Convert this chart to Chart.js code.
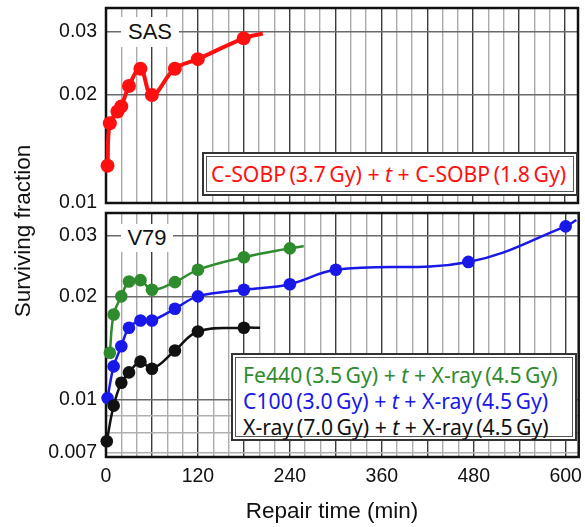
<!DOCTYPE html>
<html><head><meta charset="utf-8">
<script src="https://cdn.jsdelivr.net/npm/chart.js@4.4.0/dist/chart.umd.min.js"></script>
<style>
html,body{margin:0;padding:0;background:#fff;}
#wrap{position:relative;width:585px;height:527px;overflow:hidden;font-family:"Liberation Sans",Arial,sans-serif;color:#111;}
canvas{position:absolute;left:0;top:0;}
.tag{position:absolute;background:#fff;font-size:22px;text-align:center;white-space:nowrap;}
.leg{position:absolute;background:#fff;border:2px solid #333;padding:2px;box-sizing:border-box;}
.leg .in{border:1px solid #555;height:100%;box-sizing:border-box;font-family:"Noto Sans",sans-serif;font-size:21.2px;white-space:nowrap;}
.title{position:absolute;font-size:22.5px;white-space:nowrap;text-align:center;}
</style>
</head><body>
<div id="wrap">
<canvas id="bot" width="585" height="527"></canvas>
<canvas id="top" width="585" height="527"></canvas>
<div class="tag" style="left:121px;top:17px;width:58px;height:30px;line-height:30px;">SAS</div>
<div class="tag" style="left:121px;top:224px;width:52px;height:28px;line-height:28px;">V79</div>
<div class="leg" style="left:202px;top:152px;width:376px;height:44px;">
  <div class="in" style="color:#ff1010;line-height:34px;padding-left:4px;">C-SOBP&#8201;(3.7&#8201;Gy) + <i>t</i> + C-SOBP&#8201;(1.8&#8201;Gy)</div>
</div>
<div class="leg" style="left:231px;top:353px;width:346px;height:88px;">
  <div class="in" style="line-height:26px;padding-left:7px;padding-top:4px;">
    <div style="color:#2e8b2e">Fe440&#8201;(3.5&#8201;Gy) + <i>t</i> + X-ray&#8201;(4.5&#8201;Gy)</div>
    <div style="color:#1818e8">C100&#8201;(3.0&#8201;Gy) + <i>t</i> + X-ray&#8201;(4.5&#8201;Gy)</div>
    <div style="color:#111">X-ray&#8201;(7.0&#8201;Gy) + <i>t</i> + X-ray&#8201;(4.5&#8201;Gy)</div>
  </div>
</div>
<div class="title" style="left:-127px;top:218px;width:300px;transform:rotate(-90deg);">Surviving fraction</div>
<div class="title" style="left:182px;top:498px;width:300px;">Repair time (min)</div>
</div>
<script>
// ---- data (time in min, surviving fraction) ----
const sasTime = [2, 5, 15, 20, 30, 45, 60, 90, 120, 180, 205];
const sasSF   = [0.0127, 0.0167, 0.0180, 0.0186, 0.0212, 0.0237, 0.0200, 0.0237, 0.0252, 0.0288, 0.0297];

const fe440Time = [5, 10, 20, 30, 45, 60, 90, 120, 180, 240, 258];
const fe440SF   = [0.0137, 0.0177, 0.0200, 0.0221, 0.0223, 0.0209, 0.0220, 0.0239, 0.0260, 0.0276, 0.0280];

const c100Time = [2, 10, 20, 30, 45, 60, 90, 120, 180, 240, 300, 473, 600, 614];
const c100SF   = [0.0101, 0.0125, 0.0143, 0.0162, 0.0170, 0.0170, 0.0184, 0.0200, 0.0209, 0.0217, 0.0239, 0.0252, 0.0320, 0.0334];

const xrayTime = [1, 10, 20, 30, 45, 60, 90, 120, 180, 201];
const xraySF   = [0.00756, 0.0096, 0.0112, 0.0120, 0.0129, 0.0123, 0.0139, 0.0158, 0.0162, 0.0162];

const xTickLabels = ['0', '120', '240', '360', '480', '600'];
const topYTicks = [0.01, 0.02, 0.03];
const topYLabels = ['0.01', '0.02', '0.03'];
const botYTicks = [0.007, 0.008, 0.009, 0.01, 0.02, 0.03];
const botYLabels = ['0.007', '', '', '0.01', '0.02', '0.03'];

const X_MIN = 0, X_MAX = 617, X_STEP = 20;
const pts = (xs, ys) => xs.map((x, i) => ({x: x, y: ys[i]}));
const xGridValues = [];
for (let v = X_MIN; v <= 600; v += X_STEP) xGridValues.push(v);

const frame = {
  id: 'frame',
  beforeDatasetsDraw(chart) {
    const a = chart.chartArea, c = chart.ctx;
    c.save(); c.strokeStyle = '#111'; c.lineWidth = 2.5;
    c.strokeRect(a.left, a.top, a.right - a.left, a.bottom - a.top);
    c.restore();
  }
};

function ds(label, xs, ys, color, r, w) {
  return {
    label: label, data: pts(xs, ys), borderColor: color, backgroundColor: color,
    borderWidth: w, tension: 0.4, fill: false, clip: false,
    pointRadius: ctx => ctx.dataIndex === ctx.dataset.data.length - 1 ? 0 : r,
    pointBorderWidth: 0, pointHoverRadius: 0
  };
}

function xScale(showLabels, h) {
  return {
    type: 'linear', min: X_MIN, max: X_MAX,
    afterBuildTicks: s => { s.ticks = xGridValues.map(v => ({value: v})); },
    afterFit: s => { s.height = h; s.paddingLeft = 0; s.paddingRight = 0; },
    ticks: {
      display: showLabels, autoSkip: false, maxRotation: 0, padding: 8,
      font: {family: 'Liberation Sans', size: 19.5}, color: '#111',
      callback: v => xTickLabels.includes(String(v)) ? String(v) : ''
    },
    grid: {
      drawTicks: false, lineWidth: 1.4,
      color: ctx => (ctx.tick && ctx.tick.value % 60 === 0) ? '#3c3c3c' : '#ababab'
    },
    border: {display: false}
  };
}

function yScale(min, max, tickVals, tickLabels) {
  return {
    type: 'logarithmic', min: min, max: max,
    afterBuildTicks: s => { s.ticks = tickVals.map(v => ({value: v})); },
    afterFit: s => { s.width = 106; s.paddingTop = 0; s.paddingBottom = 0; },
    ticks: {
      autoSkip: false, padding: 9,
      font: {family: 'Liberation Sans', size: 19.5}, color: '#111',
      callback: (v, i) => tickLabels[i]
    },
    grid: {
      drawTicks: false, lineWidth: 1.4,
      color: ctx => (ctx.tick && ctx.tick.value >= 0.0099) ? '#6a6a6a' : '#b0b0b0'
    },
    border: {display: false}
  };
}

const common = {
  responsive: false, animation: false, devicePixelRatio: 1, events: [],
  plugins: {legend: {display: false}, tooltip: {enabled: false}}
};

new Chart(document.getElementById('top'), {
  type: 'line',
  data: {datasets: [ds('SAS', sasTime, sasSF, '#ff1010', 7, 4)]},
  options: Object.assign({}, common, {
    layout: {padding: {top: 8, right: 5, bottom: 324, left: 0}},
    scales: {x: xScale(false, 0), y: yScale(0.01, 0.035, topYTicks, topYLabels)}
  }),
  plugins: [frame]
});

new Chart(document.getElementById('bot'), {
  type: 'line',
  data: {datasets: [
    ds('X-ray', xrayTime, xraySF, '#111111', 6.3, 2.5),
    ds('C100', c100Time, c100SF, '#1818e8', 6.3, 2.5),
    ds('Fe440', fe440Time, fe440SF, '#2e8b2e', 6.3, 2.5)
  ]},
  options: Object.assign({}, common, {
    layout: {padding: {top: 213, right: 5, bottom: 0, left: 0}},
    scales: {x: xScale(true, 70), y: yScale(0.0068, 0.035, botYTicks, botYLabels)}
  }),
  plugins: [frame]
});
</script>
</body></html>
